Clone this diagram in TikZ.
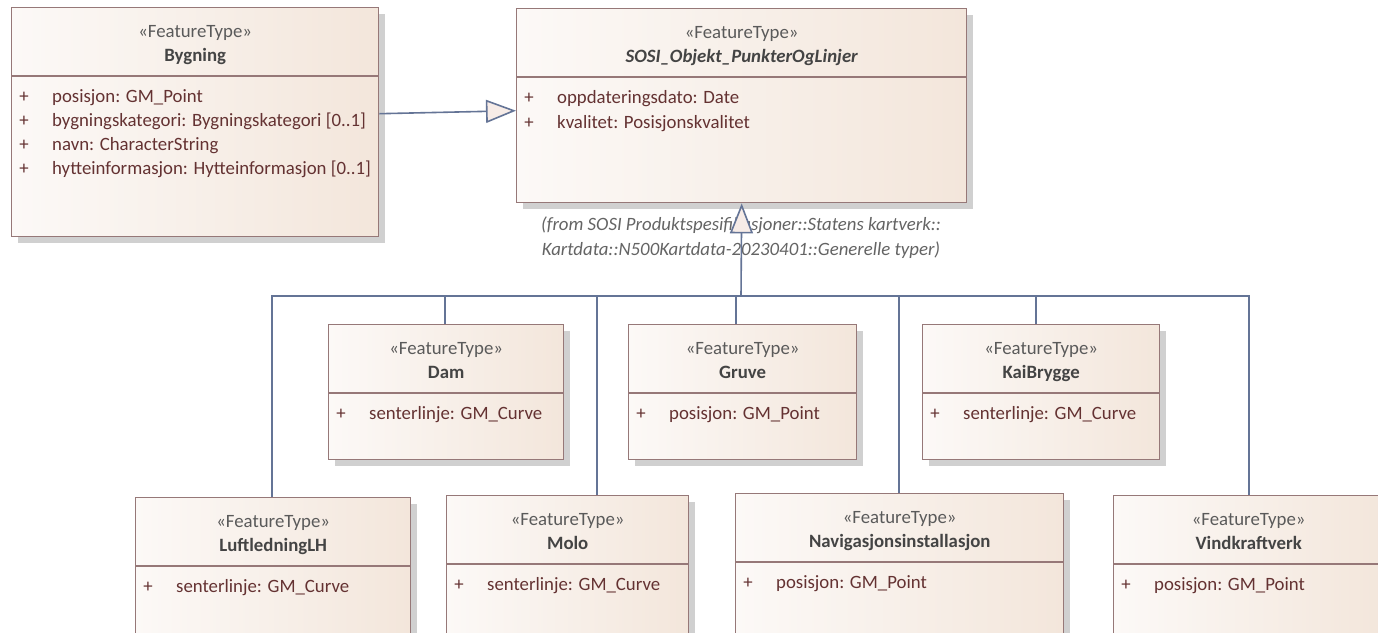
\documentclass[tikz,border=0pt]{standalone}
\usepackage{fontspec}
\setmainfont{Carlito}
\usetikzlibrary{shadows,arrows.meta}

\definecolor{boxborder}{RGB}{150,120,120}
\definecolor{boxlight}{RGB}{252,249,247}
\definecolor{boxdark}{RGB}{243,230,219}
\definecolor{shadowgray}{RGB}{208,208,208}
\definecolor{linkblue}{RGB}{100,116,150}
\definecolor{headfill}{RGB}{247,236,231}
\definecolor{stereotext}{RGB}{90,90,90}
\definecolor{nametext}{RGB}{68,68,68}
\definecolor{attrtext}{RGB}{100,50,50}
\definecolor{fromtext}{RGB}{100,100,100}

\tikzset{
  classbox/.style={rectangle, draw=boxborder, line width=1.4pt, inner sep=0pt,
    left color=boxlight, right color=boxdark, anchor=north west,
    drop shadow={shadow xshift=6pt, shadow yshift=-6pt, fill=shadowgray, opacity=1}},
  boxline/.style={draw=boxborder, line width=1.4pt},
  txt/.style={inner sep=0pt, text height=12pt, text depth=4pt,
    font=\fontsize{18.8}{22}\selectfont},
  stereo/.style={txt, text=stereotext},
  classname/.style={txt, text=nametext, font=\fontsize{18.8}{22}\selectfont\bfseries},
  plussign/.style={txt, text=attrtext},
  attrib/.style={txt, text=attrtext, anchor=west},
  link/.style={draw=linkblue, line width=1.6pt},
  genhead/.style={-{Triangle[length=30pt, width=23pt, fill=headfill]}},
  fromlabel/.style={inner sep=0pt, align=center, text=fromtext,
    font=\fontsize{18.8}{25}\selectfont\itshape}
}

% one UML class: node name, x, y, width, height, class name
\newcommand\featurebox[6]{%
  \node[classbox, minimum width=#4pt, minimum height=#5pt] (#1) at (#2,#3) {};
  \draw[boxline] ([yshift=-69pt]#1.north west) -- ([yshift=-69pt]#1.north east);
  \node[stereo] at ([yshift=-26pt]#1.north) {«FeatureType»};
  \node[classname] at ([yshift=-50pt]#1.north) {#6};
}
% one attribute row: class node, offset below the first row, text
\newcommand\attribute[3]{%
  \node[plussign] at ([shift={(13pt,-91pt-#2pt)}]#1.north west) {+};
  \node[attrib] at ([shift={(41pt,-91pt-#2pt)}]#1.north west) {#3};
}

\begin{document}
\begin{tikzpicture}[x=1pt, y=-1pt]
\clip (0,0) rectangle (1378,632);
\fill[white] (0,0) rectangle (1378,632);

% parent classes
\featurebox{bygning}{11}{7}{367}{229}{Bygning}
\attribute{bygning}{0}{posisjon: GM\_Point}
\attribute{bygning}{24}{bygningskategori: Bygningskategori [0..1]}
\attribute{bygning}{48}{navn: CharacterString}
\attribute{bygning}{72}{hytteinformasjon: Hytteinformasjon [0..1]}

\featurebox{sosi}{516}{8}{450}{194}{\itshape SOSI\_Objekt\_PunkterOgLinjer}
\attribute{sosi}{0}{oppdateringsdato: Date}
\attribute{sosi}{25}{kvalitet: Posisjonskvalitet}

\node[fromlabel] (origin) at (741,237.5)
  {(from SOSI Produktspesifikasjoner::Statens kartverk::\\
   Kartdata::N500Kartdata-20230401::Generelle typer)};

% specialised classes, upper row
\featurebox{dam}{328}{324}{235}{135}{Dam}
\attribute{dam}{0}{senterlinje: GM\_Curve}
\featurebox{gruve}{628}{324}{228}{135}{Gruve}
\attribute{gruve}{0}{posisjon: GM\_Point}
\featurebox{kai}{922}{324}{237}{135}{KaiBrygge}
\attribute{kai}{0}{senterlinje: GM\_Curve}

% specialised classes, lower row
\featurebox{luft}{135}{497}{275}{150}{LuftledningLH}
\attribute{luft}{0}{senterlinje: GM\_Curve}
\featurebox{molo}{446}{495}{242}{150}{Molo}
\attribute{molo}{0}{senterlinje: GM\_Curve}
\featurebox{navig}{735}{493}{328}{150}{Navigasjonsinstallasjon}
\attribute{navig}{0}{posisjon: GM\_Point}
\featurebox{vind}{1113}{495}{270}{150}{Vindkraftverk}
\attribute{vind}{0}{posisjon: GM\_Point}

% generalisation Bygning -> SOSI_Objekt_PunkterOgLinjer
\draw[link, genhead] ([yshift=8.5pt]bygning.east) -- ([yshift=-5pt]sosi.west);

% shared generalisation tree
\coordinate (bus) at (741,296);
\foreach \child/\dx in {luft/-1.5, dam/-1.5, molo/29, gruve/-7, navig/-1, kai/-5.5, vind/0}
  \draw[link] ([xshift=\dx pt]\child.north) |- (bus);
\draw[link, genhead] (bus) -- (sosi.south);
\end{tikzpicture}
\end{document}
